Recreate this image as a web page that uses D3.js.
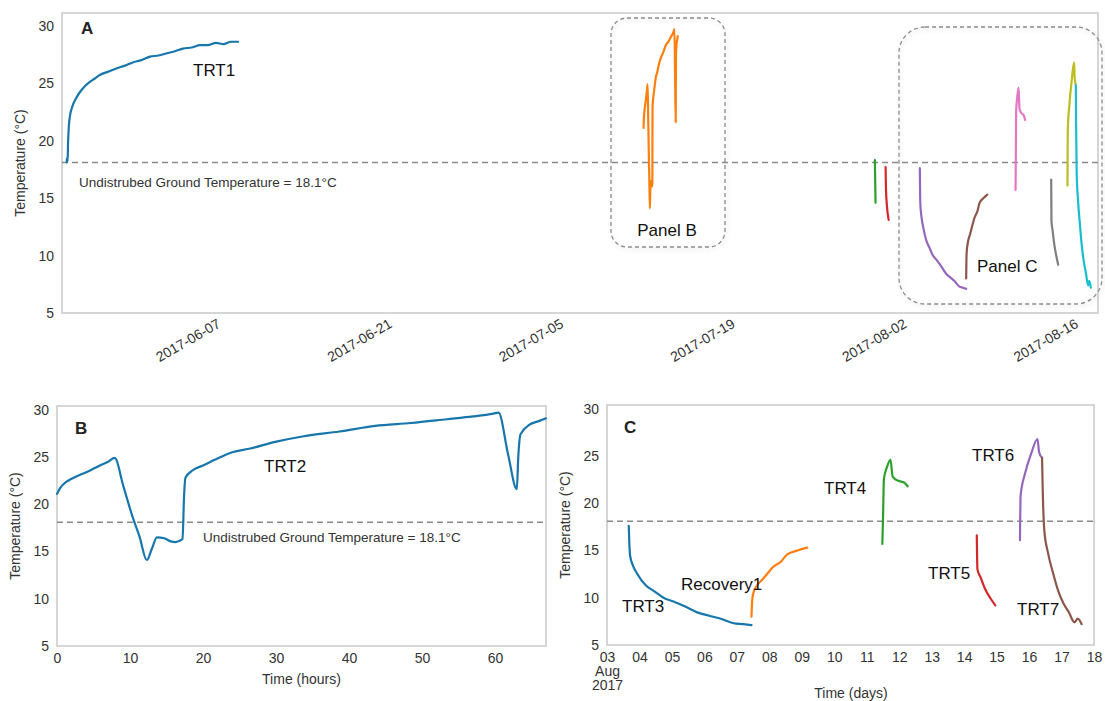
<!DOCTYPE html>
<html lang="en">
<head>
<meta charset="UTF-8">
<title>TRT temperatures</title>
<style>
  body { margin: 0; background: #fff; }
  svg { font-family: "Liberation Sans", Arial, sans-serif; }
  .frame { fill: none; stroke: #cccccc; stroke-width: 1.6px; }
  .line { fill: none; stroke-width: 2.2px; stroke-linejoin: round; stroke-linecap: round; }
  .ground { stroke: #8a8a8a; stroke-width: 1.5px; stroke-dasharray: 6,4; }
  .axis path, .axis line { display: none; }
  .axis text { font-size: 14px; fill: #333; font-family: "Liberation Sans", Arial, sans-serif; }
  .ylab { font-size: 14px; fill: #333; }
  .tag { font-size: 17px; fill: #111; }
  .panel { font-size: 17px; font-weight: bold; fill: #222; }
  .note { font-size: 13.5px; fill: #333; }
  .zone { fill: none; stroke: #8c8c8c; stroke-width: 1.3px; stroke-dasharray: 4,3; }
</style>
<script src="https://d3js.org/d3.v7.min.js"></script>
</head>
<body>
<div id="chart"></div>
<script>
// ground temperature line
const GROUND = 18.1;
const COLORS = ["#1776ab", "#ff7f0e", "#2ca02c", "#d62728", "#9467bd",
                "#8c564b", "#e377c2", "#7f7f7f", "#bcbd22", "#17becf"];

// TRT1: [days from start, temperature]
const TRT1_START = "2017-05-26T01:00";
const TRT1 = [[0, 18.1], [0.04, 18.5], [0.08, 18.2], [0.12, 19.8], [0.18, 21.2], [0.27, 22.1],
  [0.45, 22.9], [0.68, 23.5], [0.95, 24.0], [1.22, 24.4], [1.55, 24.8], [1.9, 25.1], [2.3, 25.4],
  [2.7, 25.7], [3.4, 26.0], [4.1, 26.3], [4.7, 26.5], [5.4, 26.8], [6.1, 27.0], [6.8, 27.3],
  [7.5, 27.4], [8.2, 27.6], [8.9, 27.8], [9.5, 28.0], [10.2, 28.1], [10.9, 28.3], [11.5, 28.3],
  [12.2, 28.5], [12.8, 28.4], [13.4, 28.6], [14.0, 28.6]];

// TRT2: [hours from start, temperature]
const TRT2_START = "2017-07-12T03:00";
const TRT2 = [[0, 21.1], [0.5, 21.8], [1, 22.2], [2, 22.7], [3.4, 23.2], [4.6, 23.6], [5.9, 24.1],
  [7, 24.5], [7.9, 24.9], [9.1, 21.9], [10.3, 18.8], [11.3, 16.6], [12.3, 14.1], [13, 15.3],
  [13.7, 16.5], [14.7, 16.4], [15.5, 16.1], [16.2, 16.0], [17.2, 16.3], [17.4, 20.7], [17.6, 22.8],
  [18.6, 23.6], [20, 24.1], [21.6, 24.7], [24, 25.5], [26.5, 25.9], [29.9, 26.6], [33.8, 27.2],
  [38.7, 27.7], [43.6, 28.3], [48.5, 28.6], [53.4, 29.0], [57, 29.3], [59.8, 29.6], [60.5, 29.7],
  [61.8, 25.3], [63.0, 21.6], [63.2, 25.0], [63.5, 27.4], [64.7, 28.4], [66, 28.8], [67, 29.1]];

// short tests before Panel C window: [date, temperature]
const TEST_GREEN = [["2017-07-31T00:00", 18.3], ["2017-07-31T00:40", 16.4], ["2017-07-31T01:20", 14.6]];
const TEST_RED = [["2017-07-31T21:00", 17.7], ["2017-07-31T21:40", 15.9], ["2017-07-31T23:30", 14.4],
  ["2017-08-01T03:00", 13.1]];

// Panel C series: [day of August, temperature]
const TRT3 = [[3.67, 17.6], [3.69, 15.6], [3.71, 14.5], [3.8, 13.4], [3.92, 12.6], [4.2, 11.3],
  [4.45, 10.7], [4.74, 10.0], [5.05, 9.6], [5.39, 9.1], [5.83, 8.4], [6.15, 8.1], [6.48, 7.8],
  [6.9, 7.3], [7.2, 7.2], [7.45, 7.1]];
const RECOVERY1 = [[7.45, 8.0], [7.47, 9.6], [7.5, 10.4], [7.6, 11.2], [7.78, 11.9], [7.95, 12.6],
  [8.1, 13.2], [8.38, 13.9], [8.55, 14.6], [8.87, 15.0], [9.17, 15.3]];
const TRT4 = [[11.48, 15.7], [11.5, 18.2], [11.53, 22.6], [11.62, 23.8], [11.73, 24.6],
  [11.8, 22.8], [11.9, 22.5], [12.05, 22.3], [12.15, 22.2], [12.26, 21.8]];
const TRT5 = [[14.39, 16.6], [14.41, 13.0], [14.5, 12.2], [14.65, 10.9], [14.8, 10.0], [14.96, 9.2]];
const TRT6 = [[15.72, 16.1], [15.74, 20.8], [15.88, 23.2], [16.06, 25.2], [16.26, 26.8],
  [16.31, 25.4], [16.4, 24.8]];
const TRT7 = [[16.4, 24.8], [16.42, 21.5], [16.47, 17.1], [16.58, 14.8], [16.74, 12.6],
  [16.9, 10.7], [17.06, 9.4], [17.22, 8.5], [17.4, 7.4], [17.5, 7.8], [17.62, 7.2]];

const TICKS_A = ["2017-06-07", "2017-06-21", "2017-07-05", "2017-07-19", "2017-08-02", "2017-08-16"];
const Y_TICKS = [5, 10, 15, 20, 25, 30];
const HOUR_TICKS = [0, 10, 20, 30, 40, 50, 60];

const DAY = 864e5, HOUR = 36e5;
const parse = d3.utcParse("%Y-%m-%dT%H:%M");
const parseDay = d3.utcParse("%Y-%m-%d");
const aug = d => new Date(Date.UTC(2017, 7, 1) + (d - 1) * DAY);

const svg = d3.select("#chart").append("svg")
  .attr("width", 1105).attr("height", 701);

const defs = svg.append("defs");
defs.append("filter").attr("id", "shadow")
  .attr("x", "-10%").attr("y", "-10%").attr("width", "130%").attr("height", "130%")
  .append("feDropShadow")
  .attr("dx", 1).attr("dy", 2).attr("stdDeviation", 2)
  .attr("flood-color", "#000").attr("flood-opacity", 0.18);

function yAxis(g, y, left) {
  g.append("g").attr("class", "axis")
    .attr("transform", "translate(" + left + ",0)")
    .call(d3.axisLeft(y).tickValues(Y_TICKS).tickSize(0).tickPadding(8));
}

function lineOf(x, y, fx) {
  return d3.line().curve(d3.curveMonotoneX)
    .x(d => x(fx(d[0]))).y(d => y(d[1]));
}

// ---------------- Panel A ----------------
const A = { left: 62, right: 1098, top: 13, bottom: 313 };
const xA = d3.scaleUtc()
  .domain([parse("2017-05-25T16:00"), parse("2017-08-18T05:00")])
  .range([A.left, A.right]);
const yA = d3.scaleLinear().domain([5, 31.1]).range([A.bottom, A.top]);

const gA = svg.append("g");
gA.append("rect").attr("class", "frame")
  .attr("x", A.left).attr("y", A.top)
  .attr("width", A.right - A.left).attr("height", A.bottom - A.top);

gA.append("line").attr("class", "ground")
  .attr("x1", A.left).attr("x2", A.right)
  .attr("y1", yA(GROUND)).attr("y2", yA(GROUND));

const t1 = parse(TRT1_START).getTime();
const t2 = parse(TRT2_START).getTime();
const seriesA = [
  { data: TRT1, f: v => new Date(t1 + v * DAY) },
  { data: TRT2, f: v => new Date(t2 + v * HOUR) },
  { data: TEST_GREEN, f: parse },
  { data: TEST_RED, f: parse },
  { data: TRT3, f: aug },
  { data: RECOVERY1, f: aug },
  { data: TRT4, f: aug },
  { data: TRT5, f: aug },
  { data: TRT6, f: aug },
  { data: TRT7, f: aug }
];
seriesA.forEach((s, i) => {
  gA.append("path").attr("class", "line")
    .attr("stroke", COLORS[i])
    .attr("d", lineOf(xA, yA, s.f)(s.data));
});

yAxis(gA, yA, A.left);
gA.append("g").attr("class", "axis")
  .attr("transform", "translate(0," + A.bottom + ")")
  .call(d3.axisBottom(xA).tickValues(TICKS_A.map(parseDay))
    .tickFormat(d3.utcFormat("%Y-%m-%d")).tickSize(0))
  .selectAll("text")
  .attr("text-anchor", "end")
  .attr("x", 0).attr("y", 3).attr("dy", "0.9em")
  .attr("transform", "rotate(-30)");

gA.append("text").attr("class", "ylab")
  .attr("transform", "translate(25," + (A.top + A.bottom) / 2 + ") rotate(-90)")
  .attr("text-anchor", "middle").text("Temperature (°C)");

// zoom boxes
gA.append("rect").attr("class", "zone").attr("filter", "url(#shadow)")
  .attr("x", 611).attr("y", 18).attr("width", 114).attr("height", 229).attr("rx", 16);
gA.append("rect").attr("class", "zone").attr("filter", "url(#shadow)")
  .attr("x", 899).attr("y", 27).attr("width", 203).attr("height", 277).attr("rx", 26);

gA.append("text").attr("class", "panel").attr("x", 81).attr("y", 34).text("A");
gA.append("text").attr("class", "tag").attr("x", 193).attr("y", 76).text("TRT1");
gA.append("text").attr("class", "note").attr("x", 79).attr("y", 187)
  .text("Undistrubed Ground Temperature = 18.1°C");
gA.append("text").attr("class", "tag").attr("x", 667).attr("y", 236)
  .attr("text-anchor", "middle").text("Panel B");
gA.append("text").attr("class", "tag").attr("x", 977).attr("y", 272).text("Panel C");

// ---------------- Panel B ----------------
const B = { left: 57, right: 546, top: 406, bottom: 646 };
const xB = d3.scaleLinear().domain([0, 67]).range([B.left, B.right]);
const yB = d3.scaleLinear().domain([5, 30.4]).range([B.bottom, B.top]);

const gB = svg.append("g");
gB.append("rect").attr("class", "frame")
  .attr("x", B.left).attr("y", B.top)
  .attr("width", B.right - B.left).attr("height", B.bottom - B.top);
gB.append("line").attr("class", "ground")
  .attr("x1", B.left).attr("x2", B.right)
  .attr("y1", yB(GROUND)).attr("y2", yB(GROUND));
gB.append("path").attr("class", "line").attr("stroke", COLORS[0])
  .attr("d", lineOf(xB, yB, v => v)(TRT2));

yAxis(gB, yB, B.left);
gB.append("g").attr("class", "axis")
  .attr("transform", "translate(0," + B.bottom + ")")
  .call(d3.axisBottom(xB).tickValues(HOUR_TICKS).tickSize(0).tickPadding(7));

gB.append("text").attr("class", "ylab")
  .attr("transform", "translate(20," + (B.top + B.bottom) / 2 + ") rotate(-90)")
  .attr("text-anchor", "middle").text("Temperature (°C)");
gB.append("text").attr("class", "ylab").attr("x", (B.left + B.right) / 2).attr("y", 684)
  .attr("text-anchor", "middle").text("Time (hours)");

gB.append("text").attr("class", "panel").attr("x", 75).attr("y", 434).text("B");
gB.append("text").attr("class", "tag").attr("x", 264).attr("y", 472).text("TRT2");
gB.append("text").attr("class", "note").attr("x", 203).attr("y", 542)
  .text("Undistrubed Ground Temperature = 18.1°C");

// ---------------- Panel C ----------------
const C = { left: 607, right: 1094, top: 405, bottom: 645 };
const xC = d3.scaleUtc().domain([aug(3), aug(18)]).range([C.left, C.right]);
const yC = d3.scaleLinear().domain([5, 30.4]).range([C.bottom, C.top]);

const gC = svg.append("g");
gC.append("rect").attr("class", "frame")
  .attr("x", C.left).attr("y", C.top)
  .attr("width", C.right - C.left).attr("height", C.bottom - C.top);
gC.append("line").attr("class", "ground")
  .attr("x1", C.left).attr("x2", C.right)
  .attr("y1", yC(GROUND)).attr("y2", yC(GROUND));

const seriesC = [TRT3, RECOVERY1, TRT4, TRT5, TRT6, TRT7];
const namesC = ["TRT3", "Recovery1", "TRT4", "TRT5", "TRT6", "TRT7"];
const tagPos = [[622, 612], [681, 590], [824, 494], [928, 579], [972, 461], [1017, 615]];
seriesC.forEach((s, i) => {
  gC.append("path").attr("class", "line").attr("stroke", COLORS[i])
    .attr("d", lineOf(xC, yC, aug)(s));
  gC.append("text").attr("class", "tag")
    .attr("x", tagPos[i][0]).attr("y", tagPos[i][1]).text(namesC[i]);
});

yAxis(gC, yC, C.left);
const axC = gC.append("g").attr("class", "axis")
  .attr("transform", "translate(0," + C.bottom + ")")
  .call(d3.axisBottom(xC).ticks(d3.utcDay.every(1))
    .tickFormat(d3.utcFormat("%d")).tickSize(0).tickPadding(7));
axC.selectAll(".tick").filter((d, i) => i === 0).select("text")
  .call(t => {
    t.append("tspan").attr("x", 0).attr("dy", "1.0em").text("Aug");
    t.append("tspan").attr("x", 0).attr("dy", "1.0em").text("2017");
  });

gC.append("text").attr("class", "ylab")
  .attr("transform", "translate(570," + (C.top + C.bottom) / 2 + ") rotate(-90)")
  .attr("text-anchor", "middle").text("Temperature (°C)");
gC.append("text").attr("class", "ylab").attr("x", 851).attr("y", 698)
  .attr("text-anchor", "middle").text("Time (days)");

gC.append("text").attr("class", "panel").attr("x", 624).attr("y", 433).text("C");
</script>
</body>
</html>
